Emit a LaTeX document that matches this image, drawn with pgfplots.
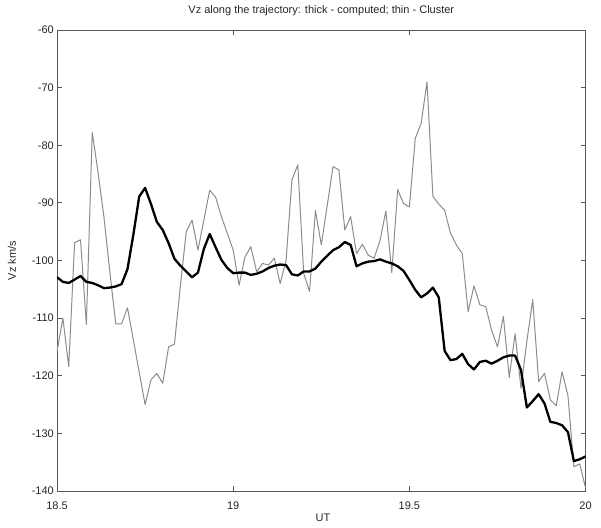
\documentclass[border=0pt]{standalone}
\usepackage{pgfplots}
\pgfplotsset{compat=1.18}
\usepackage{pgfplotstable}
\usepackage{fontspec}
\setmainfont{Liberation Sans}

% UT (hours), Cluster Vz (thin), computed Vz (thick), km/s
\pgfplotstableread{
t        cluster  computed
18.5000  -115.8   -102.9
18.5167  -110.0   -103.7
18.5333  -118.4   -103.9
18.5500  -96.9    -103.3
18.5667  -96.4    -102.7
18.5833  -111.1   -103.7
18.6000  -77.8    -103.9
18.6167  -84.8    -104.3
18.6333  -92.5    -104.8
18.6500  -102.0   -104.7
18.6667  -111.0   -104.5
18.6833  -111.0   -104.1
18.7000  -108.2   -101.5
18.7167  -113.8   -95.5
18.7333  -119.4   -88.9
18.7500  -125.0   -87.4
18.7667  -120.7   -90.2
18.7833  -119.6   -93.3
18.8000  -121.3   -94.7
18.8167  -115.0   -97.0
18.8333  -114.5   -99.7
18.8500  -104.5   -100.9
18.8667  -95.0    -101.9
18.8833  -93.0    -102.9
18.9000  -98.2    -102.1
18.9167  -93.0    -98.0
18.9333  -87.8    -95.4
18.9500  -89.0    -97.7
18.9667  -92.4    -99.9
18.9833  -95.3    -101.3
19.0000  -98.2    -102.2
19.0167  -104.3   -102.1
19.0333  -99.4    -102.1
19.0500  -97.6    -102.5
19.0667  -102.0   -102.3
19.0833  -100.5   -101.9
19.1000  -100.8   -101.3
19.1167  -99.6    -100.9
19.1333  -104.0   -100.7
19.1500  -100.0   -100.8
19.1667  -86.0    -102.4
19.1833  -83.4    -102.6
19.2000  -102.2   -101.9
19.2167  -105.4   -101.9
19.2333  -91.3    -101.4
19.2500  -97.3    -100.2
19.2667  -90.5    -99.2
19.2833  -83.7    -98.2
19.3000  -84.3    -97.7
19.3167  -94.7    -96.8
19.3333  -92.4    -97.3
19.3500  -98.8    -101.0
19.3667  -97.2    -100.5
19.3833  -99.1    -100.2
19.4000  -99.6    -100.1
19.4167  -96.5    -99.8
19.4333  -91.4    -100.2
19.4500  -102.1   -100.5
19.4667  -87.7    -101.0
19.4833  -90.1    -101.8
19.5000  -90.7    -103.4
19.5167  -78.8    -105.1
19.5333  -76.2    -106.4
19.5500  -69.0    -105.7
19.5667  -88.9    -104.7
19.5833  -90.2    -106.4
19.6000  -91.3    -115.7
19.6167  -95.3    -117.3
19.6333  -97.3    -117.1
19.6500  -98.8    -116.2
19.6667  -108.9   -118.0
19.6833  -104.4   -118.9
19.7000  -107.7   -117.6
19.7167  -108.0   -117.4
19.7333  -112.1   -117.9
19.7500  -115.0   -117.4
19.7667  -109.7   -116.8
19.7833  -120.3   -116.5
19.8000  -112.7   -116.5
19.8167  -122.2   -119.0
19.8333  -114.0   -125.5
19.8500  -106.8   -124.4
19.8667  -121.0   -123.2
19.8833  -119.6   -124.8
19.9000  -124.2   -128.0
19.9167  -125.2   -128.2
19.9333  -119.3   -128.6
19.9500  -123.5   -129.8
19.9667  -135.8   -134.8
19.9833  -135.3   -134.5
20.0000  -139.5   -134.0
}\vzdata

\definecolor{axisgray}{gray}{0.35}
\definecolor{thingray}{gray}{0.55}
\definecolor{textgray}{gray}{0.15}

\begin{document}
\begin{tikzpicture}
\path[use as bounding box] (-57pt,-36pt) rectangle (544pt,491pt);
\begin{axis}[
  at={(0,0)}, anchor=south west,
  width=528.6pt, height=461pt, scale only axis,
  xmin=18.5, xmax=20, ymin=-140, ymax=-60,
  xtick={18.5,19,19.5,20},
  xticklabels={18.5,19,19.5,20},
  ytick={-140,-130,-120,-110,-100,-90,-80,-70,-60},
  yticklabels={-140,-130,-120,-110,-100,-90,-80,-70,-60},
  tick align=inside,
  tick pos=both,
  major tick length=5pt,
  axis line style={axisgray, line width=0.8pt},
  every tick/.style={axisgray, line width=0.8pt},
  font=\fontsize{11}{13}\selectfont,
  tick label style={textgray},
  xticklabel style={anchor=north, inner sep=0pt, yshift=-11pt},
  yticklabel style={anchor=east, inner sep=0pt, xshift=-3pt},
  title={Vz along the trajectory: thick - computed; thin - Cluster},
  title style={at={(axis description cs:0.5,1.028)}, anchor=center, textgray},
  xlabel={UT},
  xlabel style={at={(axis description cs:0.503,-0.0586)}, anchor=center, textgray},
  ylabel={Vz km/s},
  ylabel style={at={(axis description cs:-0.0851,0.5)}, anchor=center, rotate=0, textgray},
]
\addplot[thingray, line width=1pt, line join=round] table[x=t, y=cluster] {\vzdata};
\addplot[black, line width=2.3pt, line join=round] table[x=t, y=computed] {\vzdata};
\end{axis}
\end{tikzpicture}
\end{document}
